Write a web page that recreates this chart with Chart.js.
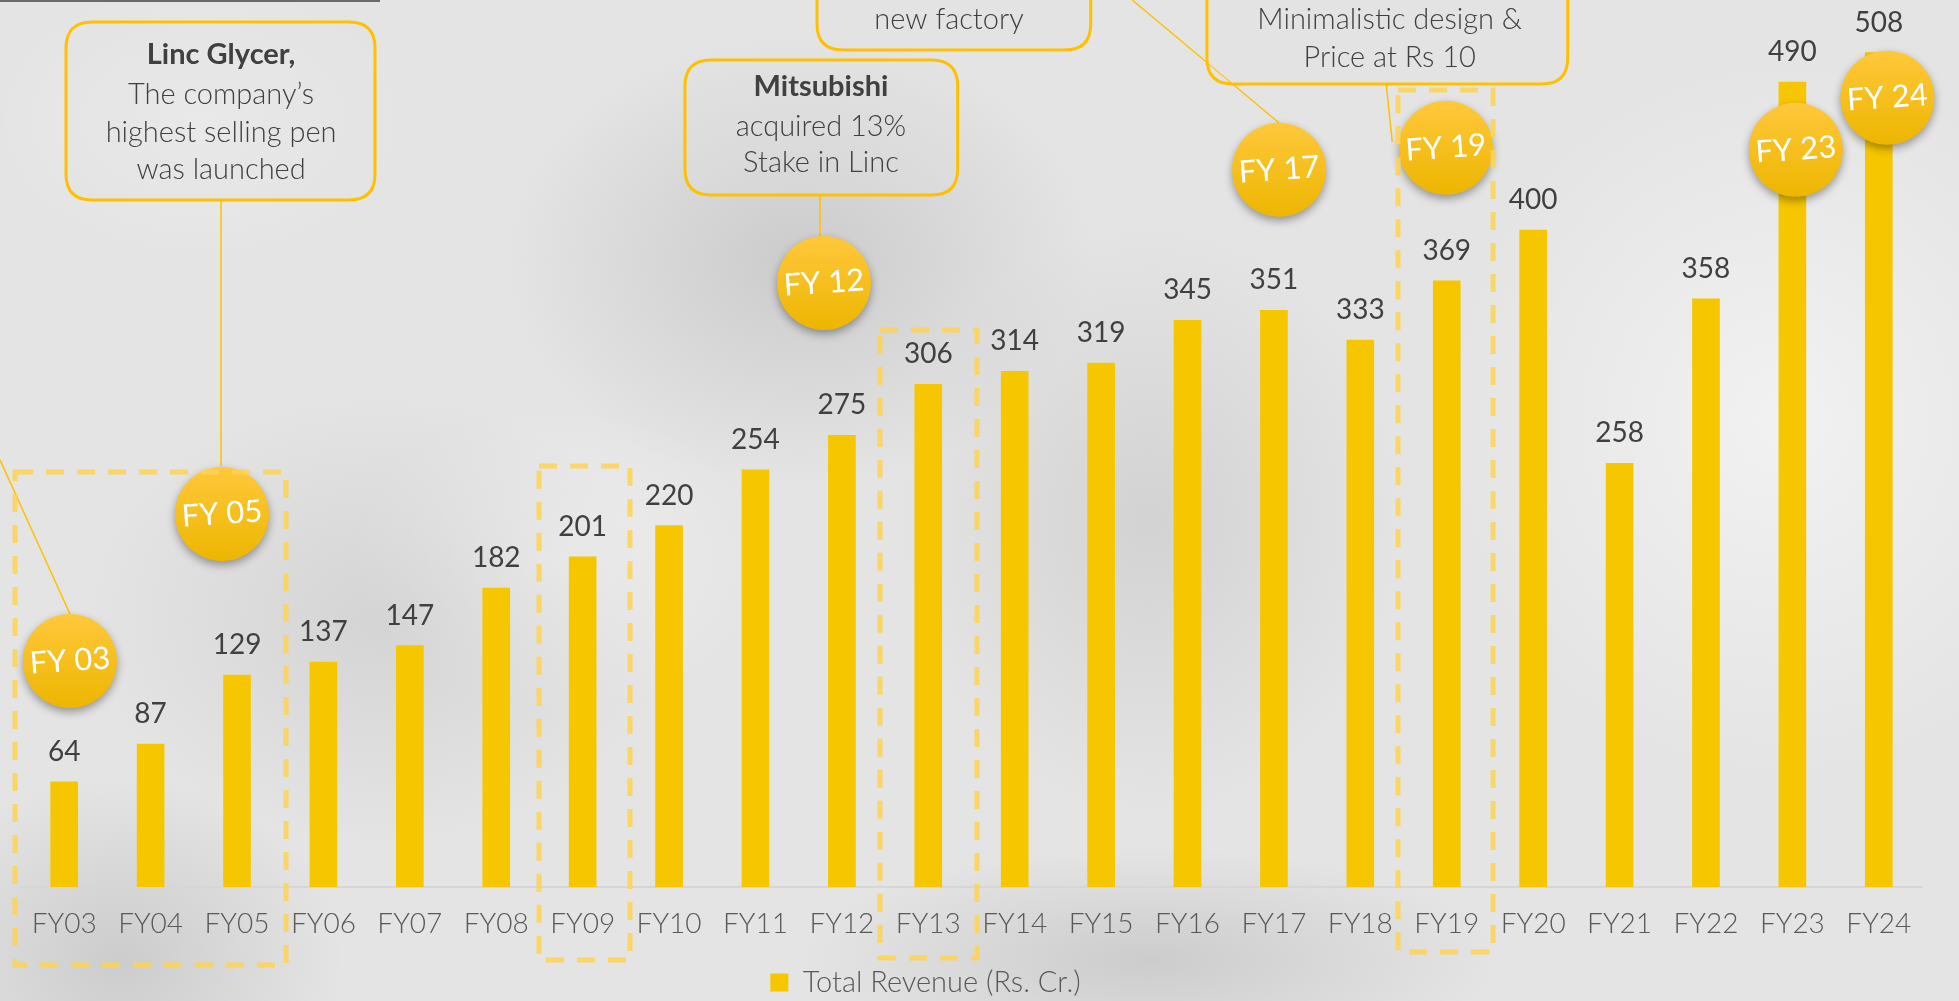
<!DOCTYPE html>
<html><head><meta charset="utf-8">
<script src="https://cdn.jsdelivr.net/npm/chart.js@4.4.1/dist/chart.umd.min.js"></script>
<style>
html,body{margin:0;padding:0;width:1959px;height:1001px;overflow:hidden;}
body{background:
 radial-gradient(ellipse 420px 320px at 800px 260px, rgba(130,130,130,0.25), rgba(130,130,130,0) 70%),
 radial-gradient(ellipse 360px 420px at 1150px 520px, rgba(140,140,140,0.2), rgba(140,140,140,0) 70%),
 radial-gradient(ellipse 420px 320px at 380px 620px, rgba(140,140,140,0.18), rgba(140,140,140,0) 70%),
 radial-gradient(ellipse 500px 160px at 1150px 960px, rgba(120,120,120,0.22), rgba(120,120,120,0) 70%),
 radial-gradient(ellipse 480px 520px at 1780px 420px, rgba(255,255,255,0.5), rgba(255,255,255,0) 70%),
 radial-gradient(ellipse 320px 260px at 120px 960px, rgba(120,120,120,0.22), rgba(120,120,120,0) 70%),
 radial-gradient(ellipse 300px 220px at 560px 560px, rgba(255,255,255,0.35), rgba(255,255,255,0) 70%),
 radial-gradient(ellipse 300px 200px at 200px 120px, rgba(255,255,255,0.3), rgba(255,255,255,0) 70%),
 #e4e4e4;}
#wrap{position:relative;width:1959px;height:1001px;}
#strip{position:absolute;left:0;top:0;width:380px;height:2px;background:#6a6a6a;}
canvas{display:block;position:absolute;left:0;top:0;}
</style></head><body><div id="wrap"><div id="strip"></div><canvas id="c" width="1959" height="1001"></canvas></div>
<script>
// ---- data ----
const categories = ['FY03','FY04','FY05','FY06','FY07','FY08','FY09','FY10','FY11','FY12','FY13','FY14','FY15','FY16','FY17','FY18','FY19','FY20','FY21','FY22','FY23','FY24'];
const revenue = [64,87,129,137,147,182,201,220,254,275,306,314,319,345,351,333,369,400,258,358,490,508];
const seriesName = 'Total Revenue (Rs. Cr.)';
const milestoneLabels = ['FY 03','FY 05','FY 12','FY 17','FY 19','FY 23','FY 24'];
const calloutTexts = [
  [['Linc Glycer,', true], ['The company\u2019s', false], ['highest selling pen', false], ['was launched', false]],
  [['new factory', false]],
  [['Mitsubishi', true], ['acquired 13%', false], ['Stake in Linc', false]],
  [['Minimalistic design &', false], ['Price at Rs 10', false]]
];

// ---- annotation geometry in data units (category index, value) ----
const milestoneAnchors = [[0.067,137.6],[1.826,227.1],[8.793,367.7],[14.06,436.6],[15.99,450.0],[20.04,448.8],[21.10,480.5]];
const calloutBoxes = [[0.021,526.6,3.597,418.2],[8.712,576.5,11.88,509.6],[7.184,503.5,10.34,421.3],[13.225,576.5,17.40,488.9]];
const calloutTextAnchor = [[1.815,[506.5,482.2,459.0,436.5]],[10.24,[527.8]],[8.758,[487.0,462.7,440.8]],[15.34,[527.8,504.7]]];
const connectors = [[-0.743,260.0,0.067,166.2],[1.815,418.2,1.815,256.3],[8.747,421.3,8.747,396.3],[12.36,540,14.06,465.1],[15.30,488.2,15.37,453.5]];
const dashedBoxes = [[-0.569,252.6,2.567,-47.5],[5.495,256.3,6.548,-44.4],[9.441,339.1,10.563,-43.2],[15.436,485.2,16.536,-39.6]];

const HAND = '"Lato", "Open Sans", sans-serif';
const BAR = '#F6C600';

function rr(ctx,x,y,w,h,r){
  ctx.beginPath();
  ctx.moveTo(x+r,y);ctx.lineTo(x+w-r,y);ctx.quadraticCurveTo(x+w,y,x+w,y+r);
  ctx.lineTo(x+w,y+h-r);ctx.quadraticCurveTo(x+w,y+h,x+w-r,y+h);
  ctx.lineTo(x+r,y+h);ctx.quadraticCurveTo(x,y+h,x,y+h-r);
  ctx.lineTo(x,y+r);ctx.quadraticCurveTo(x,y,x+r,y);ctx.closePath();
}

const legendShift = {
  id:'legendShift',
  afterLayout(chart){ if(chart.legend){ chart.legend.left -= 46; chart.legend.right -= 46; } }
};

const valueLabels = {
  id:'valueLabels',
  afterDatasetsDraw(chart){
    const ctx = chart.ctx; const meta = chart.getDatasetMeta(0);
    ctx.save();
    ctx.font = '28px "Lato", sans-serif';
    ctx.fillStyle = '#404040'; ctx.textAlign = 'center'; ctx.textBaseline = 'alphabetic';
    meta.data.forEach((bar,i)=>{ ctx.fillText(String(revenue[i]), bar.x, bar.y - 21); });
    ctx.restore();
  }
};

const annotations = {
  id:'annotations',
  afterDraw(chart){
    const ctx = chart.ctx; const xs = chart.scales.x, ys = chart.scales.y;
    const X = v => xs.getPixelForValue(v), Y = v => ys.getPixelForValue(v);
    ctx.save();
    ctx.strokeStyle = '#FFC000'; ctx.lineWidth = 1.5;
    connectors.forEach(c=>{ ctx.beginPath(); ctx.moveTo(X(c[0]),Y(c[1])); ctx.lineTo(X(c[2]),Y(c[3])); ctx.stroke(); });
    calloutBoxes.forEach((b,i)=>{
      const x1=X(b[0]), y1=Y(b[1]), x2=X(b[2]), y2=Y(b[3]);
      rr(ctx,x1,y1,x2-x1,y2-y1,26);
      ctx.fillStyle='rgba(225,225,225,0.3)'; ctx.fill();
      ctx.strokeStyle='#FFC000'; ctx.lineWidth=3; ctx.stroke();
      const ta = calloutTextAnchor[i];
      ctx.fillStyle='#404040'; ctx.textAlign='center'; ctx.textBaseline='middle';
      calloutTexts[i].forEach((ln,j)=>{
        ctx.font = (ln[1] ? '700 29px ' : '300 29px ') + HAND;
        ctx.fillText(ln[0], X(ta[0]), Y(ta[1][j]));
      });
    });
    milestoneAnchors.forEach((m,i)=>{
      const cx=X(m[0]), cy=Y(m[1]), r=47;
      ctx.save();
      ctx.shadowColor='rgba(0,0,0,0.35)'; ctx.shadowBlur=9; ctx.shadowOffsetY=4;
      const g = ctx.createLinearGradient(0,cy-r,0,cy+r);
      g.addColorStop(0,'#FFC83C'); g.addColorStop(1,'#EDB600');
      ctx.fillStyle=g; ctx.beginPath(); ctx.arc(cx,cy,r,0,Math.PI*2); ctx.fill();
      ctx.restore();
      ctx.save();
      ctx.translate(cx,cy); ctx.rotate(-0.07);
      ctx.fillStyle='#ffffff'; ctx.font='400 31px '+HAND; ctx.textAlign='center'; ctx.textBaseline='middle';
      ctx.fillText(milestoneLabels[i],0,0);
      ctx.restore();
    });
    ctx.strokeStyle='rgba(255,210,80,0.85)'; ctx.lineWidth=5; ctx.setLineDash([18,13]);
    dashedBoxes.forEach(d=>{
      const x1=X(d[0]), y1=Y(d[1]), x2=X(d[2]), y2=Y(d[3]);
      ctx.strokeRect(x1,y1,x2-x1,y2-y1);
    });
    ctx.restore();
  }
};

new Chart(document.getElementById('c'), {
  type:'bar',
  data:{ labels: categories, datasets:[{ label: seriesName, data: revenue, backgroundColor: BAR, borderWidth:0, barThickness:27 }]},
  options:{
    responsive:false, animation:false, devicePixelRatio:1,
    layout:{ padding:{ left:21, right:37, top:0, bottom:0 } },
    scales:{
      x:{ grid:{ display:false, drawTicks:false }, border:{ display:true, color:'#d6d6d6', width:2 },
          ticks:{ color:'#595959', font:{ family:HAND, size:28, weight:'300' }, padding:20, maxRotation:0, autoSkip:false },
          afterFit(s){ s.height = 71; } },
      y:{ display:false, min:0, max:540 }
    },
    plugins:{
      legend:{ position:'bottom', maxHeight:43,
        labels:{ color:'#595959', boxWidth:18, boxHeight:18, padding:10, font:{ family:HAND, size:29, weight:'300' } } },
      tooltip:{ enabled:false }
    }
  },
  plugins:[legendShift, valueLabels, annotations]
});
</script></body></html>
